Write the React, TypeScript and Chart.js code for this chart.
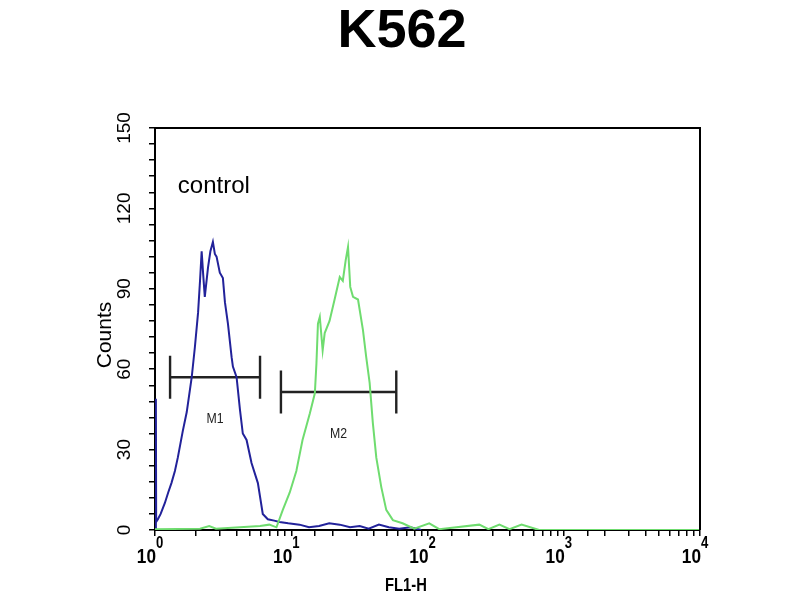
import React, { useEffect, useRef } from 'react';
import { Chart, registerables } from 'chart.js';

Chart.register(...registerables);

const TITLE = 'K562';
const X_TITLE = 'FL1-H';
const Y_TITLE = 'Counts';
const CONTROL_LABEL = 'control';

// axis ticks / labels
const xDecades = [0, 1, 2, 3, 4];
const yLabelValues = [0, 30, 60, 90, 120, 150];

// control (blue) histogram
const blueX = [1.0, 1.015, 1.02, 1.05, 1.1, 1.18, 1.25, 1.32, 1.4, 1.47, 1.6, 1.71, 1.86, 1.96, 2.07, 2.14, 2.2, 2.26, 2.32, 2.45, 2.55, 2.66, 2.75, 2.83, 2.99, 3.15, 3.26, 3.43, 3.65, 3.73, 3.97, 4.2, 4.41, 4.7, 5.11, 5.69, 6.18, 6.73, 7.5, 8.2, 9.5, 11.5, 13.5, 16, 19, 22.7, 27, 31.8, 37, 44, 52, 62, 75, 90];
const blueY = [0, 49, 3, 4, 6, 10, 14, 17.5, 22, 27, 37, 44, 57, 68, 81, 93, 104, 95, 87, 98, 104, 107.5, 103, 102, 96, 94, 85, 77, 64.5, 61, 57, 45, 36, 33.6, 25, 17.5, 6, 4, 3.5, 3, 2.5, 2, 1, 1.5, 2.5, 2, 1, 1.5, 0.5, 2, 1, 0.5, 1, 0];

// sample (green) histogram
const greenX = [1, 2.14, 2.5, 2.8, 4.2, 5.9, 6.9, 7.79, 8.67, 9.75, 10.9, 12.1, 13.7, 14.9, 15.3, 15.7, 16.2, 17.0, 17.6, 19.1, 20.8, 22.7, 23.9, 25.1, 26.1, 27.1, 28.4, 30.9, 33.6, 35.5, 37.6, 39.7, 42.1, 45.8, 49.8, 55.7, 65.6, 80, 103, 122, 240, 280, 337, 400, 490, 660, 10000];
const greenY = [0.3, 0.5, 1.5, 0.5, 1, 1.5, 2, 1, 7.5, 14, 22, 33.6, 43.6, 51, 62, 77, 79.5, 67, 73.5, 78, 86, 94.4, 93, 100.7, 105.6, 90.7, 87, 86, 74.6, 64.5, 55, 40, 27, 16, 7.5, 3.7, 2.5, 0.5, 2.5, 0.3, 2, 0.3, 2, 0.3, 2, 0, 0];

// gate markers
const markerNames = ['M1', 'M2'];
const markerStart = [1.29, 8.4];
const markerEnd = [5.9, 59];
const markerLevel = [57, 51.5];
const markerCap = 8;

const SANS = "'Liberation Sans', Arial, sans-serif";

function markerPoints(i: number) {
  const a = markerStart[i];
  const b = markerEnd[i];
  const l = markerLevel[i];
  return [
    { x: a, y: l - markerCap }, { x: a, y: l + markerCap }, { x: a, y: null },
    { x: a, y: l }, { x: b, y: l }, { x: b, y: null },
    { x: b, y: l - markerCap }, { x: b, y: l + markerCap },
  ];
}

function narrowText(ctx: CanvasRenderingContext2D, text: string, x: number, y: number, align: CanvasTextAlign, sx = 0.82) {
  ctx.save();
  ctx.translate(x, y);
  ctx.scale(sx, 1);
  ctx.textAlign = align;
  ctx.fillText(text, 0, 0);
  ctx.restore();
}

const textPlugin = {
  id: 'facsText',
  afterDraw(chart: any) {
    const ctx = chart.ctx as CanvasRenderingContext2D;
    const area = chart.chartArea;
    const xs = chart.scales.x;
    const ys = chart.scales.y;
    ctx.save();
    // frame top & right
    ctx.strokeStyle = '#000';
    ctx.lineWidth = 2;
    ctx.beginPath();
    ctx.moveTo(area.left, area.top);
    ctx.lineTo(area.right, area.top);
    ctx.lineTo(area.right, area.bottom);
    ctx.stroke();

    ctx.fillStyle = '#000';
    ctx.textBaseline = 'alphabetic';
    // title
    ctx.font = `bold 54px ${SANS}`;
    ctx.textAlign = 'center';
    ctx.fillText(TITLE, 402, 47);

    // x title
    ctx.font = `bold 18px ${SANS}`;
    narrowText(ctx, X_TITLE, 406, 591, 'center');

    // y title
    ctx.save();
    ctx.translate(111, 335);
    ctx.rotate(-Math.PI / 2);
    ctx.font = `21px ${SANS}`;
    ctx.textAlign = 'center';
    ctx.fillText(Y_TITLE, 0, 0);
    ctx.restore();

    // x tick labels 10^n
    for (const d of xDecades) {
      const px = xs.getPixelForValue(Math.pow(10, d));
      ctx.font = `bold 21px ${SANS}`;
      narrowText(ctx, '10', px + 1, 563, 'right');
      ctx.font = `bold 16px ${SANS}`;
      narrowText(ctx, String(d), px + 1, 548, 'left');
    }

    // control label
    ctx.font = `24px ${SANS}`;
    ctx.textAlign = 'left';
    ctx.fillText(CONTROL_LABEL, xs.getPixelForValue(1.47), ys.getPixelForValue(125.7));

    // marker labels
    ctx.font = `15px ${SANS}`;
    ctx.fillStyle = '#222';
    markerNames.forEach((n, i) => {
      const mid = Math.sqrt(markerStart[i] * markerEnd[i]);
      narrowText(ctx, n, xs.getPixelForValue(mid), ys.getPixelForValue(markerLevel[i] - 17), 'center');
    });
    ctx.restore();
  },
};

export default function App() {
  const ref = useRef<HTMLCanvasElement | null>(null);
  useEffect(() => {
    document.body.style.margin = '0';
    const canvas = ref.current;
    if (!canvas) return;
    const datasets: any[] = [
      {
        label: 'sample',
        data: greenX.map((x, i) => ({ x, y: greenY[i] })),
        borderColor: '#6fdc6f',
        borderWidth: 2,
        pointRadius: 0,
        tension: 0,
      },
      {
        label: 'control',
        data: blueX.map((x, i) => ({ x, y: blueY[i] })),
        borderColor: '#22229a',
        borderWidth: 2,
        pointRadius: 0,
        tension: 0,
      },
    ];
    markerNames.forEach((n, i) => {
      datasets.push({
        label: n,
        data: markerPoints(i),
        borderColor: '#222',
        borderWidth: 2.4,
        pointRadius: 0,
        spanGaps: false,
        tension: 0,
      });
    });
    const chart = new Chart(canvas, {
      type: 'line',
      data: { datasets },
      plugins: [textPlugin],
      options: {
        animation: false,
        responsive: false,
        devicePixelRatio: 1,
        layout: { padding: { top: 128, right: 100, left: 0, bottom: 0 } },
        plugins: { legend: { display: false }, tooltip: { enabled: false }, title: { display: false } },
        scales: {
          x: {
            type: 'logarithmic',
            min: 1,
            max: 10000,
            afterFit: (s: any) => { s.height = 70; },
            border: { color: '#000', width: 2 },
            grid: { drawOnChartArea: false, drawTicks: true, tickLength: 6, color: '#000', lineWidth: 1.5 },
            ticks: { autoSkip: false, maxRotation: 0, callback: () => '' },
          },
          y: {
            type: 'linear',
            min: 0,
            max: 150,
            afterFit: (s: any) => { s.width = 155; },
            border: { color: '#000', width: 2 },
            grid: { drawOnChartArea: false, drawTicks: true, tickLength: 6, color: '#000', lineWidth: 1.5 },
            ticks: {
              stepSize: 6,
              autoSkip: false,
              minRotation: 90,
              maxRotation: 90,
              crossAlign: 'center',
              padding: 8,
              color: '#000',
              font: { family: SANS, size: 19 },
              callback: (v: any) => (yLabelValues.includes(Number(v)) ? String(v) : ''),
            },
          },
        },
      } as any,
    });
    return () => chart.destroy();
  }, []);
  return (
    <div style={{ width: 800, height: 600, background: '#fff' }}>
      <canvas ref={ref} width={800} height={600} style={{ display: 'block' }} />
    </div>
  );
}
